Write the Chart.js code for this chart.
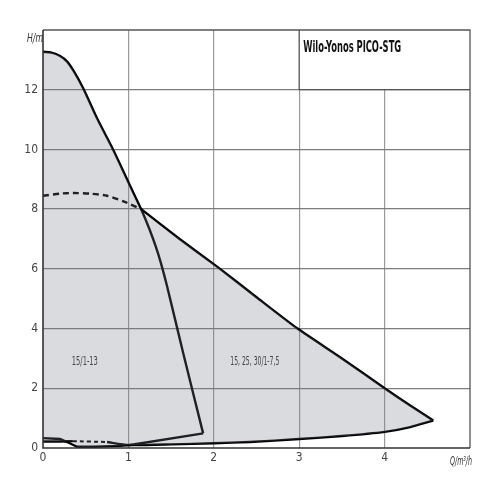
<!DOCTYPE html>
<html lang="en">
<head>
<meta charset="UTF-8">
<title>Wilo-Yonos PICO-STG</title>
<script src="https://cdn.jsdelivr.net/npm/chart.js"></script>
<style>
body { margin: 0; background: #fff; }
</style>
</head>
<body>
<canvas id="pumpChart" width="500" height="500"></canvas>
<script>
// curve 15/1-13 (upper = max speed, lower = min)
const aUpQ = [0, 0.1, 0.2, 0.28, 0.36, 0.47, 0.64, 0.82, 1.0, 1.16, 1.25, 1.32, 1.38, 1.45, 1.64, 1.875];
const aUpH = [13.27, 13.24, 13.13, 12.95, 12.62, 12.05, 11.0, 10.0, 8.9, 7.93, 7.3, 6.75, 6.2, 5.45, 3.2, 0.49];
const aLoQ = [1.875, 1.02, 0.9, 0.6, 0.4, 0.32, 0.2, 0];
const aLoH = [0.49, 0.1, 0.07, 0.04, 0.04, 0.15, 0.3, 0.33];

// curve 15, 25, 30/1-7,5
const bDashQ = [0, 0.2, 0.35, 0.55, 0.75, 0.95, 1.15];
const bDashH = [8.45, 8.52, 8.54, 8.52, 8.45, 8.25, 8.0];
const bUpQ = [1.15, 1.6, 2.05, 2.5, 2.98, 3.5, 4.0, 4.3, 4.57];
const bUpH = [8.0, 7.0, 6.05, 5.05, 4.0, 3.0, 2.0, 1.42, 0.92];
const bLoQ = [4.57, 4.3, 4.0, 3.5, 3.0, 2.42, 2.0, 1.5, 1.0, 0.75];
const bLoH = [0.92, 0.7, 0.54, 0.4, 0.3, 0.2, 0.16, 0.12, 0.1, 0.2];
const bLoDashQ = [0.35, 0.75];
const bLoDashH = [0.23, 0.2];
const bLoLeftQ = [0, 0.2, 0.35];
const bLoLeftH = [0.22, 0.22, 0.23];

const xTicks = [0, 1, 2, 3, 4];
const yTicks = [0, 2, 4, 6, 8, 10, 12];

const curveLabels = ['15/1-13', '15, 25, 30/1-7,5'];
const labelQ = [0.49, 2.48];
const labelH = [2.9, 2.9];
const title = 'Wilo-Yonos PICO-STG';

function pts(qs, hs) {
    return qs.map((q, i) => ({ x: q, y: hs[i] }));
}

// outline of the grey area (both curves together)
const shadeArea = [].concat(
    pts(aUpQ, aUpH).filter(p => p.x <= 1.16),
    pts(bUpQ, bUpH).slice(1),
    pts(bLoQ, bLoH).filter(p => p.x >= 1.0),
    pts(aLoQ, aLoH).filter(p => p.x <= 0.9 && p.x >= 0.4),
    pts(bLoLeftQ, bLoLeftH).reverse()
);

const narrow = '"Liberation Sans Narrow", "DejaVu Sans Condensed", sans-serif';

function line(data, opts) {
    return Object.assign({
        data: data,
        showLine: true,
        borderColor: '#000',
        borderWidth: 2.4,
        pointRadius: 0,
        tension: 0.2,
        fill: false
    }, opts || {});
}

const extras = {
    id: 'extras',
    beforeDatasetsDraw(chart) {
        const c = chart.ctx, x = chart.scales.x, y = chart.scales.y;
        const l = x.getPixelForValue(3), r = x.getPixelForValue(5);
        const t = y.getPixelForValue(14), b = y.getPixelForValue(12);
        c.save();
        c.fillStyle = '#fff';
        c.fillRect(l, t, r - l, b - t);
        c.strokeStyle = '#555';
        c.lineWidth = 1.3;
        c.beginPath();
        c.moveTo(l, t); c.lineTo(l, b); c.lineTo(r, b);
        c.stroke();
        c.fillStyle = '#111';
        c.font = 'bold 16px ' + narrow;
        c.textBaseline = 'alphabetic';
        c.fillText(title, l + 4, t + 22, 98);
        c.restore();
    },
    afterDraw(chart) {
        const c = chart.ctx, a = chart.chartArea, x = chart.scales.x, y = chart.scales.y;
        c.save();
        c.strokeStyle = '#555';
        c.lineWidth = 1.3;
        c.beginPath();
        c.moveTo(a.left, a.top); c.lineTo(a.right, a.top); c.lineTo(a.right, a.bottom);
        c.stroke();
        c.strokeStyle = '#333';
        c.lineWidth = 1.6;
        c.beginPath();
        c.moveTo(a.left, a.top); c.lineTo(a.left, a.bottom); c.lineTo(a.right, a.bottom);
        c.stroke();

        c.fillStyle = '#444';
        c.textAlign = 'center';
        c.textBaseline = 'middle';
        c.font = '13px ' + narrow;
        curveLabels.forEach((txt, i) => {
            const w = i === 0 ? 26 : 49;
            c.fillText(txt, x.getPixelForValue(labelQ[i]), y.getPixelForValue(labelH[i]), w);
        });

        c.fillStyle = '#333';
        c.font = 'italic 12px ' + narrow;
        c.fillText('H/m', a.left - 8, a.top + 9, 16);
        c.fillText('Q/m³/h', a.right - 9, a.bottom + 14, 22);
        c.restore();
    }
};

new Chart(document.getElementById('pumpChart'), {
    type: 'scatter',
    data: {
        datasets: [
            {
                data: shadeArea,
                showLine: true,
                borderWidth: 0,
                borderColor: 'rgba(0,0,0,0)',
                backgroundColor: 'rgba(120,122,132,0.27)',
                pointRadius: 0,
                tension: 0.15,
                fill: 'shape'
            },
            line(pts(aUpQ, aUpH), { tension: 0.3 }),
            line(pts(aLoQ, aLoH), { tension: 0 }),
            line(pts(bDashQ, bDashH), { borderDash: [6, 4] }),
            line(pts(bUpQ, bUpH)),
            line(pts(bLoQ, bLoH)),
            line(pts(bLoDashQ, bLoDashH), { borderDash: [4, 3], borderWidth: 2 }),
            line(pts(bLoLeftQ, bLoLeftH))
        ]
    },
    options: {
        responsive: false,
        animation: false,
        devicePixelRatio: 1,
        layout: { padding: { left: 0, top: 30, right: 30, bottom: 22 } },
        plugins: { legend: { display: false }, tooltip: { enabled: false } },
        scales: {
            x: {
                type: 'linear',
                min: 0,
                max: 5,
                afterBuildTicks: s => { s.ticks = xTicks.concat([5]).map(v => ({ value: v })); },
                afterFit: s => { s.height = 30; },
                ticks: {
                    callback: v => (xTicks.includes(v) ? String(v) : ''),
                    color: '#444',
                    font: { family: narrow, size: 12 },
                    padding: 3,
                    maxRotation: 0
                },
                grid: {
                    color: c => (c.tick.value === 0 || c.tick.value === 5 ? 'rgba(0,0,0,0)' : '#9a9a9a'),
                    lineWidth: 1.2,
                    drawTicks: false
                },
                border: { display: false }
            },
            y: {
                min: 0,
                max: 14,
                afterBuildTicks: s => { s.ticks = yTicks.concat([14]).map(v => ({ value: v })); },
                afterFit: s => { s.width = 43; },
                ticks: {
                    callback: v => (yTicks.includes(v) ? String(v) : ''),
                    color: '#444',
                    font: { family: narrow, size: 12 },
                    padding: 5
                },
                grid: {
                    color: c => (c.tick.value === 0 || c.tick.value === 14 ? 'rgba(0,0,0,0)' : '#7d7d7d'),
                    lineWidth: 1.3,
                    drawTicks: false
                },
                border: { display: false }
            }
        }
    },
    plugins: [extras]
});
</script>
</body>
</html>
